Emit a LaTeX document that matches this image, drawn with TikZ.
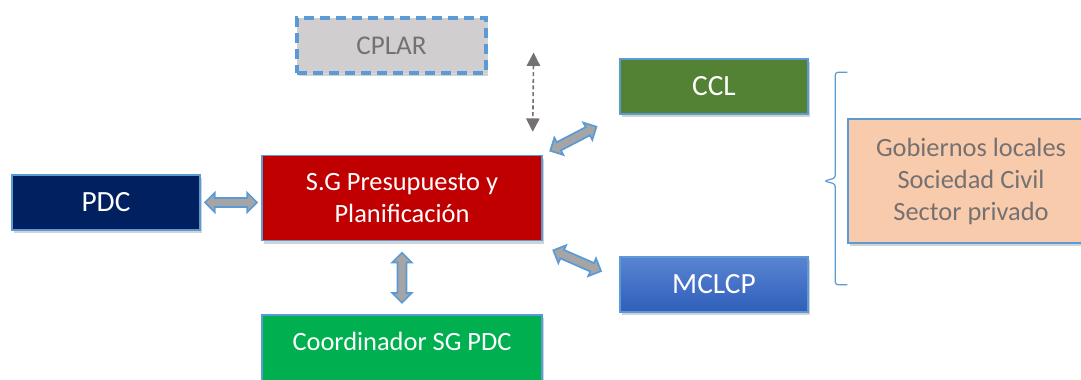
\documentclass[tikz,border=0pt]{standalone}
\usepackage{fontspec}
\setmainfont{Carlito}
\usetikzlibrary{shapes.arrows,shadows,arrows.meta,calc}
\definecolor{bord}{HTML}{5B9BD5}
\definecolor{agray}{HTML}{A5A5A5}
\definecolor{txtgray}{HTML}{767171}
\definecolor{cplarfill}{HTML}{D0CECE}
\definecolor{cclgreen}{HTML}{548235}
\definecolor{sgred}{HTML}{C00000}
\definecolor{pdcnavy}{HTML}{002060}
\definecolor{coordgreen}{HTML}{00B050}
\definecolor{peach}{HTML}{F8CBAD}
\definecolor{mtop}{HTML}{5A84D2}
\definecolor{mbot}{HTML}{2F5FBA}
\definecolor{dgray}{HTML}{767171}
\begin{document}
\begin{tikzpicture}[x=0.75pt,y=-0.75pt,
  box/.style={draw=bord, line width=1.1pt, minimum width=141pt, minimum height=41.25pt,
    inner sep=0pt, font=\fontsize{19.8}{24}\selectfont, text=white, align=center,
    drop shadow={shadow xshift=1.5pt, shadow yshift=-2.5pt, opacity=0.35}},
  bigtxt/.style={font=\fontsize{22}{26}\selectfont},
  barrow/.style={double arrow, draw=bord, fill=agray, line width=1.3pt,
    inner xsep=0pt, inner ysep=2.8pt, minimum width=0pt,
    double arrow head extend=3.8pt, minimum height=39pt},
  dasharrow/.style={draw=dgray, line width=1.2pt, dash pattern=on 3pt off 2pt,
    {Triangle[width=10pt,length=10pt]}-{Triangle[width=10pt,length=10pt]}},
  bracket/.style={draw=bord, line width=0.9pt, rounded corners=2pt}
]
\clip (0,0) rectangle (1081,379);
% nodes
\node[box, fill=cplarfill, text=txtgray, minimum width=141.75pt, line width=2.4pt,
      font=\fontsize{20.3}{24}\selectfont,
      dash pattern=on 7.5pt off 4.5pt] (cplar) at (391.5,45.5) {CPLAR};
\node[box, bigtxt, fill=cclgreen] (ccl) at (714,86.5) {CCL};
\node[box, fill=sgred, minimum width=210pt, minimum height=63.75pt] (sg) at (402,198)
      {S.G Presupuesto y\\Planificación};
\node[box, bigtxt, fill=pdcnavy] (pdc) at (106,202.5) {PDC};
\node[box, bigtxt, top color=mtop, bottom color=mbot] (mclcp) at (714,284.5) {MCLCP};
\node[box, fill=coordgreen, minimum width=210pt, minimum height=63.75pt] (coord) at (402,357.5) {};
\node[font=\fontsize{19.8}{24}\selectfont, text=white, anchor=center] (coordtxt)
      at ($(coord.north)+(0,27.5)$) {Coordinador SG PDC};
\node[box, fill=peach, text=txtgray, minimum width=184.5pt, minimum height=93pt] (gob) at (971,181)
      {Gobiernos locales\\Sociedad Civil\\Sector privado};
% block arrows
\node[barrow] (a1) at ($(pdc.east)!0.5!(sg.west|-pdc.east)$) {};
\node[barrow, rotate=90, minimum height=37.5pt] (a2) at ($(sg.south)!0.5!(coord.north)$) {};
\node[barrow, rotate=27.5] (a3) at ($(sg.north east)!0.4!(ccl.south west)$) {};
\node[barrow, rotate=-23.6] (a4) at ($(sg.south east)!0.45!(mclcp.west)$) {};
% dashed arrow
\coordinate (dtop) at ($(cplar.east)+(46,7)$);
\coordinate (dbot) at ($(sg.north east)+(-10,-23)$);
\draw[dasharrow] (dtop) -- (dbot);
% bracket
\draw[bracket] ($(gob.north west)+(0,-46)$) -- ++(-12,0) |- ($(gob.west)+(-12,-3)$)
      -- ($(gob.west)+(-23,0)$) -- ($(gob.west)+(-12,3)$) |- ($(gob.south west)+(0,41)$);
\end{tikzpicture}
\end{document}
